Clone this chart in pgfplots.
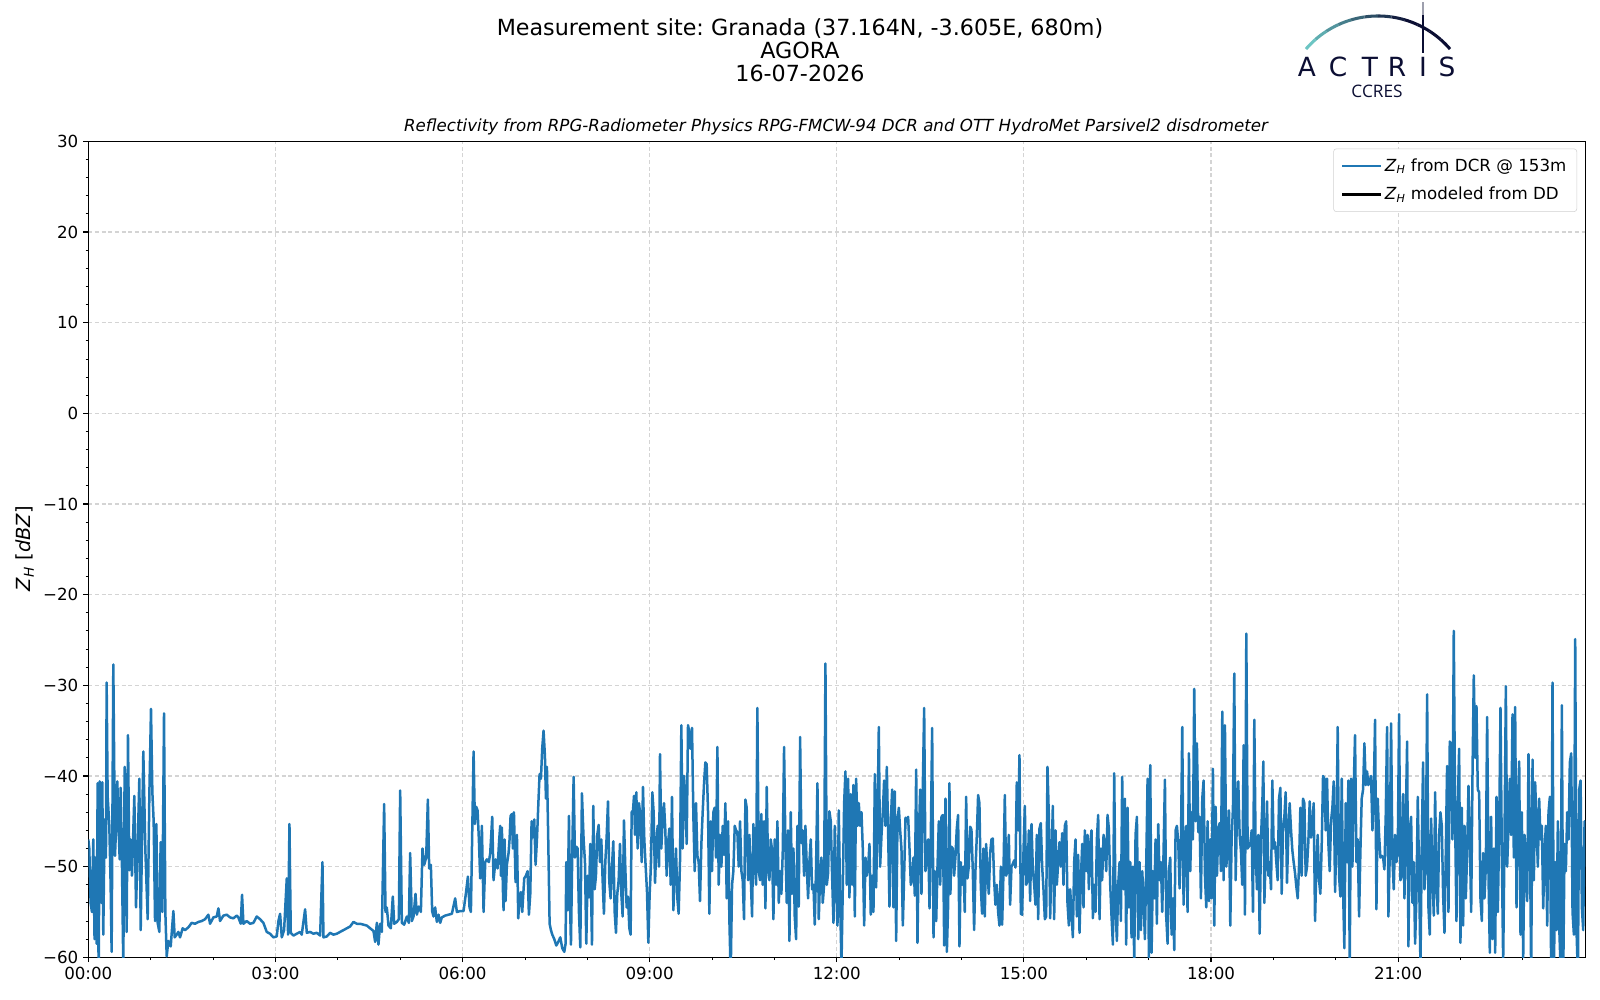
\documentclass[border=0pt]{standalone}
\usepackage{fontspec}
\setmainfont{DejaVu Sans}
\newfontfamily\opensans{Open Sans}
\usepackage{pgfplots}
\pgfplotsset{compat=1.18}
\definecolor{mplblue}{HTML}{1F77B4}
\definecolor{navy}{HTML}{0B0E33}
\definecolor{teallogo}{HTML}{6CC5C3}
\definecolor{gridc}{HTML}{D4D4D4}
\frenchspacing
\begin{document}
\begin{tikzpicture}[x=0.72pt,y=0.72pt]
\useasboundingbox (0,0) rectangle (1600,1000);
% titles
\node[font=\fontsize{16}{19}\selectfont, anchor=base] at (800,964) {Measurement site: Granada (37.164N, -3.605E, 680m)};
\node[font=\fontsize{16}{19}\selectfont, anchor=base] at (800,941.7) {AGORA};
\node[font=\fontsize{16}{19}\selectfont, anchor=base] at (800,918.3) {16-07-2026};
\node[font=\itshape\fontsize{12}{14}\selectfont, anchor=base] at (836,868.3) {Reflectivity from RPG-Radiometer Physics RPG-FMCW-94 DCR and OTT HydroMet Parsivel2 disdrometer};
% logo
\foreach \i in {0,...,11} {
  \pgfmathsetmacro\a{139.3-\i*8.217}
  \pgfmathsetmacro\b{\a-8.217}
  \pgfmathtruncatemacro\c{max(0,100-\i*13)}
  \draw[line width=2.2pt, color=teallogo!\c!navy] (1378,889) ++(\a:68.4pt) arc[start angle=\a, end angle=\b, radius=68.4pt];
}
\draw[navy, line width=1.8pt] (1423,947) -- (1423,985);
\draw[navy!40, line width=1.8pt] (1423,985) -- (1423,998);
\foreach \xx/\ll in {1307/A,1338/C,1370/T,1397/R,1423/I,1447/S} {
  \node[font=\fontsize{19}{20}\selectfont, text=navy, anchor=base, inner sep=0pt] at (\xx,923) {\ll};
}
\node[font=\opensans\fontsize{12.4}{14}\selectfont, text=navy, anchor=base, inner sep=0pt] at (1377,902) {CCRES};
% y label
\node[rotate=90, font=\fontsize{14}{16}\selectfont] at (25,451.5) {\textit{Z}\textsubscript{\textit{H}} [\textit{dBZ}]};
\begin{axis}[
  at={(63.58pt,30.74pt)}, anchor=south west,
  width=1077.8pt, height=587.5pt, scale only axis,
  xmin=0, xmax=24, ymin=-60, ymax=30,
  xtick={0,3,...,21},
  xticklabels={00:00,03:00,06:00,09:00,12:00,15:00,18:00,21:00},
  minor xtick={1,2,4,5,7,8,10,11,13,14,16,17,19,20,22,23},
  ytick={-60,-50,...,30},
  yticklabels={−60,−50,−40,−30,−20,−10,0,10,20,30},
  minor y tick num=4,
  tick pos=left,
  tick align=outside,
  major tick length=3.5pt, minor tick length=2pt,
  every tick/.style={black, line width=0.8pt},
  minor tick style={black, line width=0.6pt},
  axis line style={black, line width=0.8pt},
  ticklabel style={font=\fontsize{12}{14}\selectfont, inner sep=0pt},
  xticklabel style={anchor=north, yshift=-3.5pt},
  yticklabel style={anchor=east, xshift=-3.5pt},
  grid=major,
  major grid style={gridc, line width=0.8pt, dash pattern=on 2.9pt off 1.9pt},
  legend style={at={(1,1)}, anchor=north east, xshift=-5.9pt, yshift=-5.2pt,
    draw=black!18, rounded corners=2pt, fill=white,
    font=\fontsize{12}{14}\selectfont, row sep=6pt, inner xsep=5.5pt, inner ysep=5pt,
    cells={anchor=west}},
  legend image code/.code={\draw[#1] (-1pt,0pt) -- (26.6pt,0pt);},
]
\addplot[mplblue, line width=1.8pt, line join=round] coordinates {
(0,-47)(0.016,-48)(0.037,-54)(0.059,-55)(0.080,-47)(0.100,-58)(0.118,-49)(0.134,-58.5)(0.150,-40.8)(0.166,-63)(0.182,-40.6)(0.198,-41)(0.214,-54)(0.225,-40.7)(0.240,-57.5)(0.262,-44.8)(0.283,-49)(0.294,-29.7)(0.310,-42.2)(0.337,-45.5)(0.358,-52)(0.374,-59.4)(0.401,-27.7)(0.428,-48.8)(0.449,-45)(0.465,-40.6)(0.487,-46)(0.503,-49.2)(0.519,-41.3)(0.540,-50)(0.561,-61)(0.583,-39)(0.604,-50)(0.615,-57.2)(0.636,-35.5)(0.658,-50.4)(0.679,-47)(0.700,-51)(0.738,-42.2)(0.765,-54.5)(0.791,-48)(0.818,-40.3)(0.840,-57)(0.861,-47)(0.882,-37.3)(0.914,-48)(0.952,-55.8)(0.979,-42)(1.005,-32.6)(1.027,-41.8)(1.048,-45)(1.070,-56)(1.091,-45.3)(1.112,-56.2)(1.139,-57.2)(1.160,-47.3)(1.187,-55)(1.214,-33.1)(1.235,-55)(1.257,-59.9)(1.283,-58.2)(1.321,-58.8)(1.364,-54.9)(1.385,-57.8)(1.417,-57.5)(1.444,-57.2)(1.471,-57.8)(1.513,-56.8)(1.551,-57)(1.604,-56.7)(1.658,-56.2)(1.711,-56.3)(1.765,-56.1)(1.818,-56)(1.872,-55.8)(1.925,-55.3)(1.952,-56.3)(2.005,-55.6)(2.059,-55.5)(2.086,-54.6)(2.112,-56)(2.166,-55.4)(2.219,-55.3)(2.273,-55.6)(2.326,-55.7)(2.380,-55.4)(2.406,-55.6)(2.444,-56.3)(2.465,-53.1)(2.487,-56.3)(2.540,-56)(2.594,-56.3)(2.647,-56.2)(2.701,-55.5)(2.754,-55.8)(2.807,-56.2)(2.861,-57.2)(2.914,-57.4)(2.968,-57.8)(3.021,-57.7)(3.048,-56)(3.075,-55.2)(3.102,-57.8)(3.139,-57)(3.182,-51.3)(3.203,-57.5)(3.225,-45.3)(3.246,-57.3)(3.289,-57.6)(3.342,-57.4)(3.396,-57.2)(3.422,-57.5)(3.476,-54.7)(3.503,-57.3)(3.556,-57.2)(3.610,-57.4)(3.663,-57.3)(3.717,-57.6)(3.754,-49.5)(3.770,-57.8)(3.824,-57.7)(3.877,-57.3)(3.930,-57.5)(3.984,-57.4)(4.037,-57.2)(4.091,-57)(4.144,-56.8)(4.198,-56.6)(4.251,-56.1)(4.305,-56.3)(4.358,-56.3)(4.412,-56.4)(4.465,-56.5)(4.519,-56.8)(4.572,-57.1)(4.599,-58.3)(4.626,-56.2)(4.652,-58.6)(4.679,-56.3)(4.706,-57.2)(4.743,-43.1)(4.765,-55)(4.786,-54.5)(4.813,-56.5)(4.850,-56.8)(4.882,-53.3)(4.904,-56.3)(4.947,-56.1)(4.979,-55.8)(5.000,-41.6)(5.027,-56.2)(5.064,-56.4)(5.107,-55.5)(5.139,-56.2)(5.160,-48.5)(5.187,-56)(5.214,-55.5)(5.246,-53)(5.267,-55.3)(5.299,-54.4)(5.332,-55)(5.358,-48)(5.385,-49.8)(5.417,-49)(5.444,-42.6)(5.465,-50.2)(5.492,-49.8)(5.513,-54.9)(5.535,-55.5)(5.561,-54.5)(5.588,-56.1)(5.615,-55.3)(5.642,-56.2)(5.668,-55.6)(5.722,-55.4)(5.775,-55.3)(5.829,-55.2)(5.882,-53.5)(5.909,-55)(5.963,-54.9)(6.016,-54.9)(6.053,-53)(6.086,-51.1)(6.112,-54.5)(6.134,-55)(6.177,-37.3)(6.198,-45.3)(6.219,-43.4)(6.241,-43.8)(6.262,-47)(6.283,-51.3)(6.310,-45.5)(6.337,-55)(6.364,-49.5)(6.390,-49.2)(6.422,-49.5)(6.444,-48.5)(6.476,-44.5)(6.497,-51.5)(6.529,-49.2)(6.561,-50.2)(6.588,-47)
(6.604,-45.5)(6.615,-51)(6.631,-45.7)(6.647,-52.5)(6.658,-54.8)(6.674,-47)(6.690,-53.8)(6.711,-49.8)(6.738,-48.5)(6.754,-47)(6.770,-44.4)(6.791,-44.2)(6.807,-48)(6.824,-44)(6.850,-51.7)(6.872,-46.5)(6.893,-55.7)(6.914,-53.5)(6.936,-52.8)(6.957,-55)(6.989,-51.3)(7.016,-51)(7.043,-50.5)(7.064,-55.3)(7.086,-53)(7.107,-45)(7.123,-46.8)(7.150,-44.8)(7.171,-49.8)(7.193,-47)(7.214,-43.3)(7.235,-39.8)(7.257,-40.3)(7.278,-36.9)(7.299,-35)(7.321,-37.8)(7.337,-42.5)(7.353,-39)(7.374,-47)(7.396,-56.3)(7.417,-57)(7.439,-57.5)(7.471,-58)(7.503,-58.7)(7.535,-58.3)(7.567,-57.8)(7.599,-59)(7.631,-59.4)(7.652,-58.5)(7.663,-49.5)(7.685,-54.8)(7.706,-44.4)(7.722,-53.5)(7.738,-58.6)(7.759,-48.5)(7.781,-40.1)(7.802,-49)(7.824,-47.8)(7.845,-48)(7.866,-55)(7.888,-58.9)(7.914,-41.9)(7.941,-47)(7.963,-49.5)(7.984,-58.5)(8.005,-51)(8.027,-53.4)(8.048,-47.5)(8.075,-58.6)(8.096,-43.3)(8.118,-52.5)(8.139,-51)(8.160,-46.5)(8.182,-45.4)(8.203,-49.5)(8.225,-47)(8.246,-51.5)(8.267,-55.2)(8.289,-49.5)(8.310,-46.8)(8.332,-42.8)(8.353,-51.7)(8.374,-53.5)(8.396,-50)(8.417,-47.2)(8.439,-55)(8.460,-57.3)(8.481,-53)(8.503,-51.5)(8.524,-47.5)(8.546,-53)(8.567,-55.5)(8.588,-44.9)(8.610,-50.2)(8.631,-54.5)(8.652,-53.3)(8.674,-56.8)(8.695,-57.5)(8.711,-44)(8.733,-43.8)(8.749,-42.2)(8.765,-46.5)(8.786,-41.8)(8.807,-48)(8.829,-43)(8.850,-44.3)(8.872,-49.5)(8.893,-41.2)(8.914,-47)(8.936,-50)(8.957,-52.7)(8.979,-58.4)(9.000,-53)(9.021,-49.8)(9.043,-41.8)(9.064,-44)(9.086,-51.8)(9.107,-47.8)(9.128,-45.5)(9.150,-50)(9.166,-37.6)(9.187,-48)(9.209,-44.6)(9.230,-43)(9.251,-46)(9.273,-51)(9.294,-47.5)(9.316,-45.8)(9.337,-52)(9.358,-42.3)(9.380,-54.8)(9.401,-50.8)(9.422,-48)(9.444,-53.5)(9.465,-55.2)(9.487,-49.3)(9.508,-34.4)(9.529,-48)(9.551,-40)(9.572,-42.6)(9.594,-47.5)(9.615,-34.4)(9.636,-35.2)(9.658,-37)(9.679,-34.7)(9.701,-44.5)(9.722,-50.5)(9.743,-43)(9.765,-48.8)(9.786,-49.5)(9.807,-53.8)(9.829,-47.5)(9.850,-44)(9.872,-40.8)(9.893,-38.5)(9.914,-38.7)(9.936,-44)(9.957,-55.2)(9.979,-45)(10.000,-50.5)(10.021,-44)(10.043,-43.5)(10.064,-49)(10.086,-36.8)(10.107,-52)(10.128,-46.5)(10.150,-50)(10.171,-45.5)(10.193,-48.7)(10.214,-43)(10.235,-53.5)(10.257,-45)(10.278,-55.8)(10.299,-62)(10.321,-52)(10.342,-50.5)(10.364,-45.5)(10.385,-46)(10.406,-46.2)(10.428,-50)(10.449,-45)(10.471,-50.5)(10.492,-51.5)(10.513,-55.8)(10.535,-42.6)(10.556,-43.5)(10.578,-51.5)(10.599,-46.5)(10.620,-51)(10.642,-55.5)(10.663,-45.3)(10.685,-49.5)(10.706,-52)(10.727,-32.5)(10.749,-50.5)(10.770,-51.5)(10.791,-44.2)(10.813,-52)(10.834,-45)(10.856,-54.6)(10.877,-41.2)(10.898,-50)(10.920,-51.5)(10.941,-47)(10.963,-48.2)(10.984,-55.8)(11.005,-47)(11.027,-52)(11.048,-45)(11.070,-54)(11.091,-50.5)(11.112,-53)(11.134,-48.3)(11.155,-36.8)(11.176,-47.5)(11.198,-54)(11.219,-46)(11.241,-58.2)(11.262,-44)(11.283,-53)(11.305,-48)(11.326,-55.5)(11.348,-58)(11.369,-45.5)(11.390,-54.4)(11.412,-35.7)(11.433,-47.4)(11.455,-46)(11.476,-51)(11.497,-45.5)(11.519,-50)(11.540,-53.5)(11.561,-49.5)(11.583,-47)(11.604,-52.5)(11.626,-52)(11.647,-56.4)(11.668,-50)(11.690,-40.8)(11.711,-55.8)(11.733,-51)(11.754,-49)(11.775,-54)(11.797,-52)(11.818,-27.6)(11.840,-52)(11.861,-50.7)(11.882,-43.9)(11.904,-45)(11.925,-51)(11.947,-56.2)(11.968,-45.5)(11.989,-52)(12.011,-56.5)(12.032,-43.8)(12.053,-53.3)(12.075,-61)(12.096,-52.5)(12.118,-43)(12.139,-39.5)(12.160,-52)(12.182,-40.3)(12.203,-53.4)(12.225,-42)(12.246,-52)(12.267,-41)(12.289,-55.5)(12.310,-40.3)(12.332,-45.5)(12.353,-43)(12.374,-45.5)(12.396,-44)(12.417,-48)(12.439,-56.5)(12.460,-49)(12.481,-51)(12.503,-50)(12.524,-47.5)(12.545,-55.3)(12.567,-51)(12.588,-55)(12.610,-39.8)(12.631,-52.3)(12.652,-45)(12.674,-34.6)(12.695,-50)(12.717,-46.5)(12.738,-44)(12.759,-40.5)(12.781,-45.5)(12.802,-39)(12.824,-46.5)(12.845,-54.4)(12.866,-45)(12.888,-41.5)(12.909,-54.5)(12.930,-41.7)(12.952,-58.2)(12.973,-45)(12.995,-43.5)(13.016,-46)(13.037,-48)(13.059,-56.5)(13.080,-51)(13.102,-44.6)(13.123,-45)(13.144,-44.5)(13.166,-48)(13.187,-52)(13.209,-51.5)(13.230,-49)(13.251,-53.2)(13.273,-39.3)(13.294,-58.4)(13.316,-46.5)(13.337,-41.5)(13.358,-53)(13.380,-41)(13.401,-32.5)(13.422,-50.5)(13.444,-48)(13.465,-47)(13.487,-54.6)(13.508,-46.5)(13.529,-34.7)(13.551,-57.8)(13.572,-50.5)(13.594,-56)(13.615,-50)(13.636,-45)(13.658,-52)(13.679,-44.5)(13.701,-44.3)(13.722,-58.7)(13.743,-42.5)(13.765,-59.4)(13.786,-54)
(13.806,-40.8)(13.822,-53)(13.838,-47.8)(13.860,-48)(13.881,-51)(13.902,-49)(13.924,-45.8)(13.945,-44.3)(13.967,-58.8)(13.988,-49.5)(14.009,-52)(14.031,-50)(14.052,-55)(14.074,-42.3)(14.095,-51.3)(14.116,-50)(14.138,-45.6)(14.159,-45.9)(14.181,-50.5)(14.202,-57)(14.223,-50.5)(14.245,-46.6)(14.266,-42.1)(14.287,-43)(14.309,-52.2)(14.330,-55.2)(14.352,-48)(14.373,-55.5)(14.394,-47.5)(14.416,-50.5)(14.437,-53)(14.459,-48.5)(14.480,-47)(14.501,-46.9)(14.523,-51.5)(14.544,-54.2)(14.566,-52)(14.587,-55)(14.608,-56.5)(14.630,-50)(14.651,-56.4)(14.673,-50.5)(14.694,-42.1)(14.715,-51)(14.737,-50.5)(14.758,-46.5)(14.779,-54.2)(14.801,-50)(14.822,-49.7)(14.844,-49.3)(14.865,-50.1)(14.886,-40.7)(14.908,-46)(14.929,-37.7)(14.951,-55.2)(14.972,-55.3)(14.993,-48.5)(15.015,-43.3)(15.036,-52)(15.058,-51.6)(15.079,-46)(15.100,-53.8)(15.122,-45.3)(15.143,-50.2)(15.165,-52)(15.186,-54.2)(15.207,-46.5)(15.229,-55.8)(15.250,-45.8)(15.271,-45.2)(15.293,-50)(15.314,-52.5)(15.336,-55.8)(15.357,-55.5)(15.378,-39)(15.400,-44.5)(15.421,-55.7)(15.443,-49)(15.464,-43.3)(15.485,-55.8)(15.507,-46)(15.528,-52)(15.550,-49.5)(15.571,-47.3)(15.592,-50)(15.614,-46.3)(15.635,-52)(15.656,-45.5)(15.678,-45)(15.699,-54)(15.721,-56.5)(15.742,-52.5)(15.763,-55)(15.785,-57.8)(15.806,-49.5)(15.828,-47)(15.849,-55.5)(15.870,-48.7)(15.892,-57.3)(15.913,-51.5)(15.935,-47.5)(15.956,-54.5)(15.977,-46)(15.999,-50.5)(16.020,-46.5)(16.042,-52.5)(16.063,-47.5)(16.084,-46)(16.106,-55.7)(16.127,-52)(16.148,-55)(16.170,-47)(16.191,-44.3)(16.213,-55.8)(16.234,-48)(16.255,-51.5)(16.277,-46.5)(16.298,-47.3)(16.320,-50.5)(16.341,-44.3)(16.362,-45.8)(16.384,-52)(16.405,-55.5)(16.427,-58.6)(16.448,-39.7)(16.469,-54.6)(16.491,-58.2)(16.512,-52)(16.534,-49.5)(16.555,-56)(16.576,-40.1)(16.598,-52.5)(16.619,-42.5)(16.640,-58.6)(16.662,-43.5)(16.683,-54.5)(16.705,-49.5)(16.726,-57.8)(16.747,-50)(16.769,-60.5)(16.790,-46.5)(16.812,-44.5)(16.833,-58)(16.854,-49.5)(16.876,-57)(16.897,-50.5)(16.919,-53.5)(16.940,-58)(16.961,-50)(16.983,-40.3)(17.004,-60.2)(17.026,-38.8)(17.047,-59.5)(17.068,-50.5)(17.090,-53.5)(17.111,-47)(17.132,-56.3)(17.154,-45.3)(17.175,-51.5)(17.197,-49.5)(17.218,-55)(17.239,-48.5)(17.261,-40.4)(17.282,-55.5)(17.304,-58.5)(17.325,-50.5)(17.346,-49)(17.368,-57.5)(17.389,-53.5)(17.411,-59.2)(17.432,-46)(17.453,-45.5)(17.475,-47.3)(17.496,-52.4)(17.517,-48)(17.539,-34.6)(17.560,-54.2)(17.582,-48)(17.603,-45.5)(17.624,-55)(17.646,-37.5)(17.667,-50.5)(17.689,-44)(17.710,-47)(17.731,-30.4)(17.753,-45)(17.774,-36.4)(17.796,-46.2)(17.817,-44.5)(17.838,-53.5)(17.860,-42.5)(17.881,-40.5)(17.903,-51)(17.924,-54.5)(17.945,-45)(17.967,-53.8)(17.988,-47)(18.009,-53.5)(18.031,-39.2)(18.052,-56.5)(18.074,-43.4)(18.095,-51)(18.116,-46)(18.138,-45.2)(18.159,-50.5)(18.181,-32.9)(18.202,-51.5)(18.223,-34.4)(18.245,-50)(18.266,-48)(18.288,-43.8)(18.309,-56.5)(18.330,-47)(18.352,-43.5)(18.373,-28.7)(18.395,-51.5)(18.416,-44)(18.437,-40.6)(18.459,-46.5)(18.480,-48.3)(18.501,-52)(18.523,-36.6)(18.544,-55.3)(18.566,-24.3)(18.587,-48)
(18.630,-47.5)(18.652,-46)(18.673,-55)(18.694,-33.8)(18.716,-48.5)(18.737,-52.5)(18.759,-46.5)(18.780,-57.4)(18.801,-47)(18.823,-43)(18.839,-38.4)(18.855,-54)(18.876,-49)(18.898,-42.8)(18.919,-51)(18.940,-49.5)(18.962,-52.5)(18.983,-40.5)(19.005,-48)(19.026,-47.3)(19.047,-49.5)(19.069,-51.5)(19.090,-42.5)(19.112,-41.3)(19.133,-53)(19.154,-46)(19.176,-44.5)(19.197,-41.8)(19.218,-51.8)(19.240,-46.3)(19.261,-43)(19.283,-46)(19.304,-48.2)(19.325,-49.5)(19.347,-50.7)(19.368,-52.2)(19.390,-53.5)(19.411,-50)(19.432,-43.5)(19.454,-51)(19.475,-42.5)(19.497,-43)(19.518,-51)(19.539,-50)(19.561,-47.2)(19.582,-42.8)(19.604,-46.8)(19.625,-45.5)(19.646,-43)(19.668,-56)(19.689,-50)(19.710,-46.5)(19.732,-51.5)(19.753,-53)(19.775,-47.5)(19.796,-40)(19.817,-40.3)(19.839,-46)(19.860,-40.3)(19.882,-47.5)(19.903,-50.5)(19.924,-45)(19.946,-43.5)(19.967,-40.6)(19.989,-52.8)(20.010,-47)(20.031,-34.6)(20.053,-51)(20.074,-53.3)(20.096,-40.3)(20.117,-52.5)(20.138,-59)(20.160,-43)(20.181,-49.5)(20.202,-40.5)(20.224,-60.5)(20.245,-40.3)(20.267,-50)(20.288,-41.3)(20.309,-35.5)(20.331,-49.5)(20.352,-47)(20.374,-55.5)(20.395,-48.3)(20.416,-42.5)(20.438,-41.5)(20.459,-36.4)(20.481,-41)(20.502,-39.5)(20.523,-41)(20.545,-40.5)(20.566,-40)(20.588,-46)(20.609,-42)(20.630,-33.8)(20.652,-54.7)(20.673,-42.5)(20.694,-46.5)(20.716,-49)(20.737,-48.8)(20.759,-49)(20.780,-50.3)(20.801,-44.5)(20.823,-34.6)(20.844,-55.5)(20.866,-48.5)(20.887,-34.2)(20.908,-49)(20.930,-52.5)(20.951,-46.5)(20.973,-49.5)(20.994,-48.5)(21.015,-33.2)(21.037,-51.5)(21.058,-51)(21.080,-42)(21.101,-53.5)(21.122,-45.3)(21.144,-36.2)(21.165,-58.8)(21.186,-46)(21.208,-44.5)(21.229,-54)(21.251,-49.5)(21.272,-58.5)(21.293,-53.5)(21.315,-42.3)(21.336,-51)(21.358,-61)(21.379,-47.5)(21.400,-38.5)(21.422,-52.5)(21.443,-50)(21.465,-31)(21.486,-54.5)(21.507,-57.5)(21.529,-44.7)(21.550,-51)(21.572,-55.4)(21.593,-41.8)(21.614,-51.5)(21.636,-55.2)(21.657,-46.5)(21.678,-44)(21.700,-45.5)(21.721,-53)(21.743,-57.3)(21.764,-48.5)(21.785,-38.9)(21.807,-55)(21.828,-36.2)(21.850,-36.5)(21.871,-47)(21.892,-24)(21.914,-45)(21.935,-56)(21.957,-43)(21.978,-37)(21.999,-58.4)(22.021,-43.5)(22.042,-56.5)(22.064,-45.5)(22.085,-53.5)(22.106,-48.5)(22.128,-41.1)(22.149,-47)(22.171,-55)(22.192,-40)(22.213,-28.9)(22.235,-38)(22.256,-32.3)(22.277,-41.5)(22.299,-41.8)(22.320,-53.5)(22.342,-56)(22.363,-48.5)(22.384,-53.5)(22.406,-50)(22.427,-33.5)(22.449,-51)(22.470,-59.5)(22.491,-44.5)(22.513,-58)(22.534,-48)(22.556,-59.5)(22.577,-42.3)(22.598,-55)(22.620,-46)(22.641,-32.5)(22.663,-49)(22.684,-60.5)(22.705,-47.5)(22.727,-30.1)(22.748,-50)(22.769,-45.5)(22.791,-40.3)(22.812,-46.5)(22.834,-33.2)(22.855,-49)(22.876,-32.4)(22.898,-54.5)(22.919,-43.3)(22.941,-38.4)(22.962,-57.5)(22.983,-44)(23.005,-60.2)(23.026,-46.5)(23.048,-51)(23.069,-53.8)(23.090,-37.6)(23.112,-45.8)(23.133,-62)(23.155,-38.2)(23.176,-51.5)(23.197,-40.7)(23.219,-45.5)(23.240,-50)(23.261,-42.5)(23.283,-47)(23.304,-45.5)(23.326,-54.6)(23.347,-48.5)(23.368,-45.5)(23.390,-56.5)(23.411,-44)(23.433,-42.3)(23.454,-62)(23.475,-29.7)(23.497,-62)(23.518,-49.5)(23.540,-57)(23.561,-45)(23.582,-56.5)(23.604,-61)(23.625,-32.2)(23.647,-62)(23.668,-47.5)(23.689,-50.5)(23.711,-44)(23.732,-47)(23.753,-38.5)(23.775,-37.5)(23.796,-55)(23.818,-57.5)(23.839,-24.9)(23.860,-57)(23.882,-62)(23.903,-41.5)(23.925,-40.5)(23.946,-54.5)(23.967,-57)(23.989,-45)(24.000,-47.5)
};
\addlegendentry{\textit{Z}\textsubscript{\textit{H}} from DCR @ 153m}
\addlegendimage{black, line width=1.8pt}
\addlegendentry{\textit{Z}\textsubscript{\textit{H}} modeled from DD}
\end{axis}
\end{tikzpicture}
\end{document}
